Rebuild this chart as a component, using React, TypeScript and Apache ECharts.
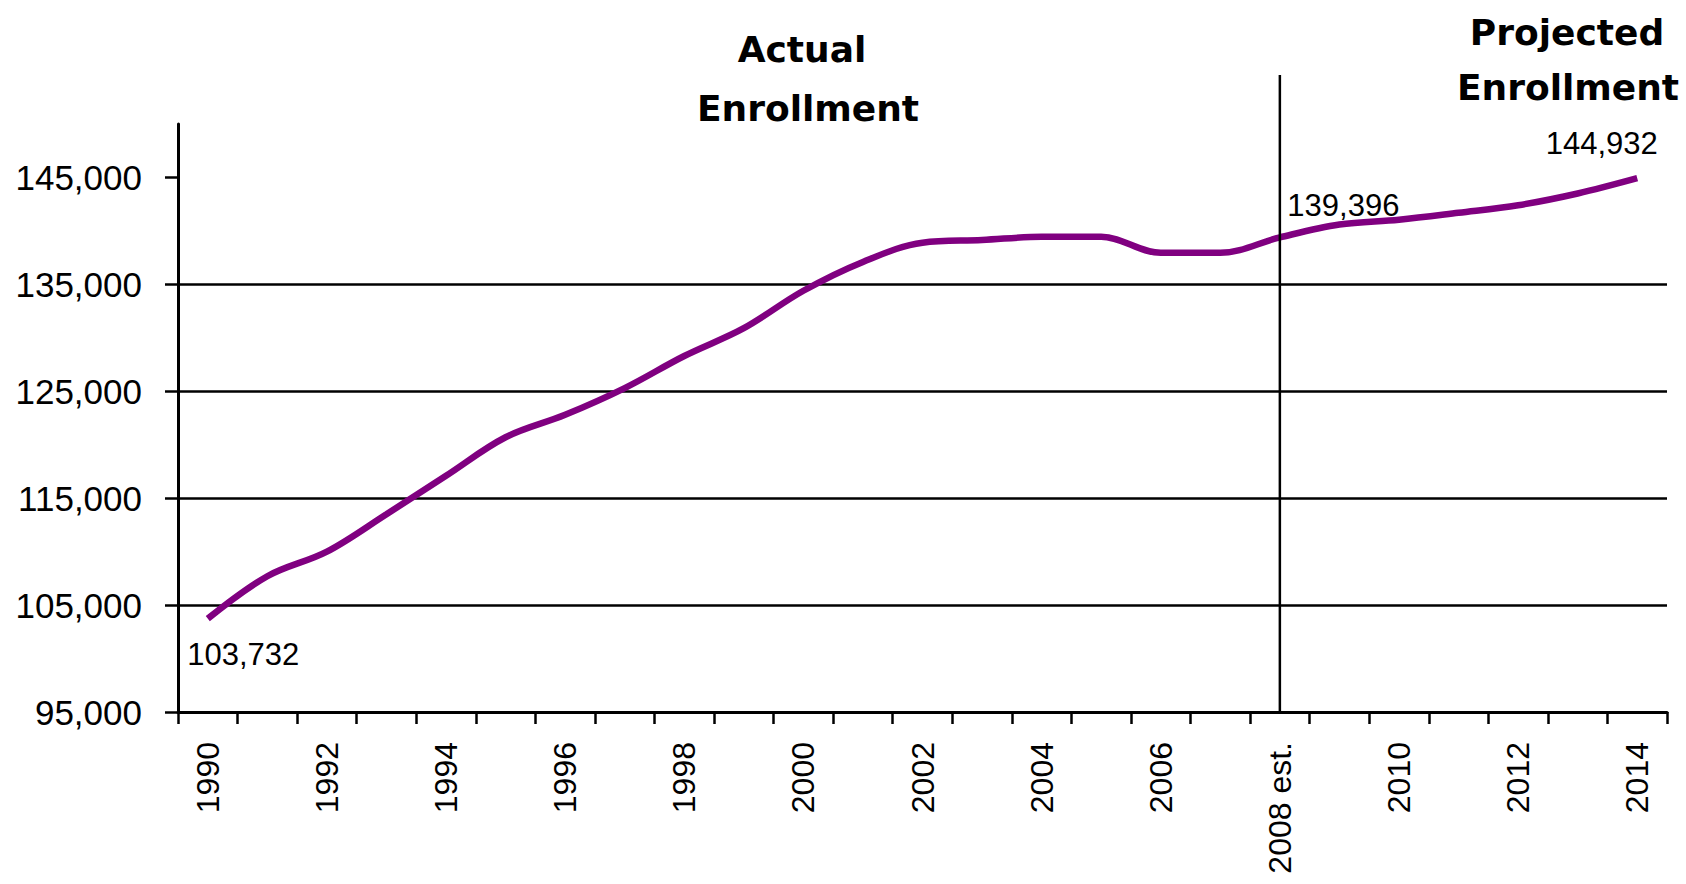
import React, { useEffect, useRef } from 'react';
import * as echarts from 'echarts';

// ---- data ----
const years = [
  '1990', '1991', '1992', '1993', '1994', '1995', '1996', '1997', '1998', '1999',
  '2000', '2001', '2002', '2003', '2004', '2005', '2006', '2007', '2008 est.',
  '2009', '2010', '2011', '2012', '2013', '2014',
];
const enrollment = [
  103732, 107700, 110000, 113500, 117100, 120700, 122800, 125300, 128300, 130900,
  134400, 137100, 138900, 139150, 139450, 139450, 137950, 137950, 139396,
  140600, 141050, 141700, 142400, 143500, 144932,
];
const yTickValues = [95000, 105000, 115000, 125000, 135000, 145000];
const yMin = 95000;
const yMax = 150000;
const dividerCategory = '2008 est.';
const labelledYears = ['1990', '2008 est.', '2014'];
const actualTitle = ['Actual', 'Enrollment'];
const projectedTitle = ['Projected', 'Enrollment'];

// label placement (styles, kept apart from data)
const labelPlacement: Record<string, { pos: number[]; align: string }> = {
  '1990': { pos: [-20, 36], align: 'left' },
  '2008 est.': { pos: [8, -31], align: 'left' },
  '2014': { pos: [21, -34], align: 'right' },
};

const fmt = (v: number) => v.toLocaleString('en-US');
const FONT = "'Liberation Sans', Arial, sans-serif";
const TITLE_FONT = "'DejaVu Sans', Verdana, sans-serif";

export default function App() {
  const ref = useRef<HTMLDivElement>(null);

  useEffect(() => {
    if (!ref.current) return;
    const chart = echarts.init(ref.current, null, { renderer: 'svg' });

    const seriesData = enrollment.map((v, i) => {
      const yr = years[i];
      if (!labelledYears.includes(yr)) return v;
      const p = labelPlacement[yr];
      return {
        value: v,
        symbol: 'circle',
        symbolSize: 1,
        itemStyle: { color: 'rgba(0,0,0,0)' },
        label: {
          show: true,
          position: p.pos,
          align: p.align,
          verticalAlign: 'middle',
          formatter: fmt(v),
          fontSize: 31,
          fontFamily: FONT,
          color: '#000',
        },
      };
    });

    const option: any = {
      animation: false,
      backgroundColor: '#fff',
      grid: {
        left: 178,
        right: 19,
        top: 124,
        bottom: 172,
        containLabel: false,
        outerBoundsMode: 'none',
      },
      xAxis: {
        type: 'category',
        data: years,
        boundaryGap: true,
        axisLine: { show: true, lineStyle: { color: '#000', width: 3 } },
        axisTick: { show: true, interval: 0, length: 12, lineStyle: { color: '#000', width: 2.5 } },
        axisLabel: {
          interval: 1,
          rotate: 90,
          margin: 30,
          fontSize: 32,
          fontFamily: FONT,
          color: '#000',
        },
        splitLine: { show: false },
      },
      yAxis: {
        type: 'value',
        min: yMin,
        max: yMax,
        axisLine: { show: true, lineStyle: { color: '#000', width: 3 } },
        axisTick: {
          show: true,
          length: 13,
          customValues: yTickValues,
          lineStyle: { color: '#000', width: 2.5 },
        },
        axisLabel: {
          customValues: yTickValues,
          formatter: (v: number) => fmt(v),
          margin: 36,
          fontSize: 35,
          fontFamily: FONT,
          color: '#000',
        },
        splitLine: {
          show: true,
          showMinLine: false,
          showMaxLine: false,
          lineStyle: { color: '#000', width: 2.5 },
        },
      },
      series: [
        {
          type: 'line',
          data: seriesData,
          symbol: 'none',
          showAllSymbol: true,
          smooth: 0.35,
          lineStyle: { color: '#800080', width: 6.5 },
          itemStyle: { color: '#800080' },
          z: 5,
        },
      ],
    };

    chart.setOption(option);

    const [xDiv, yBottom] = chart.convertToPixel({ gridIndex: 0 } as any, [dividerCategory, yMin]) as number[];

    const titleText = (text: string, x: number, y: number) => ({
      type: 'text',
      x,
      y,
      style: {
        text,
        fontSize: 36,
        fontWeight: 'bold',
        fontFamily: TITLE_FONT,
        fill: '#000',
        align: 'center',
        verticalAlign: 'middle',
      },
    });

    chart.setOption({
      graphic: [
        {
          type: 'line',
          shape: { x1: xDiv, y1: 75, x2: xDiv, y2: yBottom },
          style: { stroke: '#000', lineWidth: 2.5 },
          z: 10,
        },
        titleText(actualTitle[0], 802, 49),
        titleText(actualTitle[1], 808, 108),
        titleText(projectedTitle[0], 1567, 32),
        titleText(projectedTitle[1], 1568, 87),
      ],
    });

    return () => chart.dispose();
  }, []);

  return (
    <div
      ref={ref}
      style={{ position: 'fixed', left: 0, top: 0, width: 1686, height: 884, background: '#fff' }}
    />
  );
}
